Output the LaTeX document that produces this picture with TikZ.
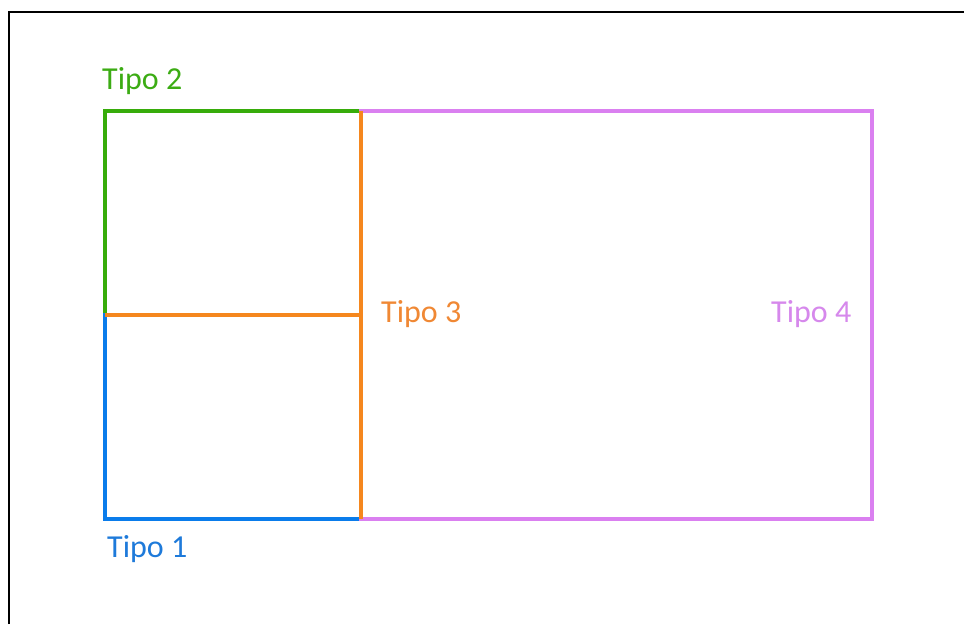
\documentclass[tikz,border=0pt]{standalone}
\usepackage{fontspec}
\setmainfont{Carlito}
\definecolor{cgreen}{RGB}{55,172,10}
\definecolor{cblue}{RGB}{10,124,235}
\definecolor{corange}{RGB}{245,135,30}
\definecolor{cpink}{RGB}{218,128,240}
\definecolor{tblue}{RGB}{30,122,218}
\definecolor{torange}{RGB}{240,136,52}
\definecolor{tpink}{RGB}{214,136,236}
\definecolor{tgreen}{RGB}{60,172,20}
\tikzset{
  edge/.style={line width=4.6pt, line join=miter, line cap=rect},
  lbl/.style={anchor=base west, inner sep=0pt, font=\fontsize{32}{38}\selectfont},
}
\begin{document}
\begin{tikzpicture}[x=1pt,y=-1pt]
\useasboundingbox (0,0) rectangle (964,624);
\fill[white] (0,0) rectangle (964,624);
\draw[line width=1.6pt, black] (9,624) -- (9,12) -- (964,12);
\coordinate (TL) at (105,111);
\coordinate (TM) at (361,111);
\coordinate (TR) at (872,111);
\coordinate (ML) at (105,315);
\coordinate (MM) at (361,315);
\coordinate (BL) at (105,519);
\coordinate (BM) at (361,519);
\coordinate (BR) at (872,519);
\draw[edge, cgreen] (ML) -- (TL) -- (TM);
\draw[edge, cblue] (ML) -- (BL) -- (BM);
\draw[edge, cpink] (TM) -- (TR) -- (BR) -- (BM);
\draw[edge, corange, line cap=butt] (ML) -- (MM);
\draw[edge, corange, line cap=butt] (TM) -- (BM);
\node[lbl, text=tgreen] (t2) at (102,89) {Tipo 2};
\node[lbl, text=tblue] (t1) at (107,557) {Tipo 1};
\node[lbl, text=torange] (t3) at (381,322.5) {Tipo 3};
\node[lbl, text=tpink] (t4) at (771,322.5) {Tipo 4};
\end{tikzpicture}
\end{document}
